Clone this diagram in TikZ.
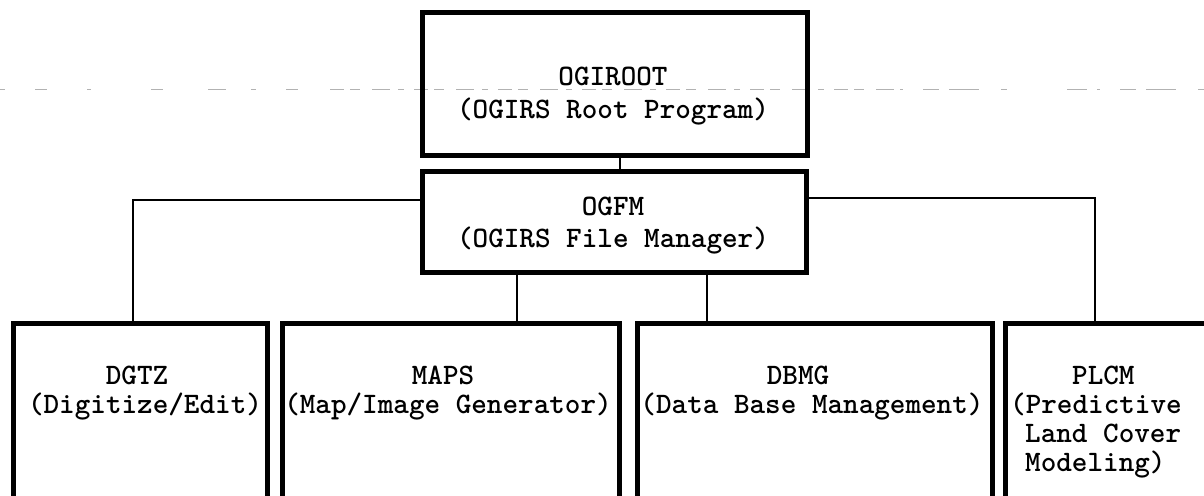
\documentclass[tikz,border=0pt]{standalone}
\usepackage{fontspec}
\begin{document}
\begin{tikzpicture}[x=1pt,y=-1pt,
  box/.style={draw, line width=5pt, rectangle, inner sep=0pt, outer sep=0pt},
  conn/.style={draw, line width=1.9pt},
  lbl/.style={inner sep=0pt, anchor=base, font=\fontsize{29.7}{33}\selectfont\ttfamily\bfseries},
  lblw/.style={lbl, anchor=base west},
  scan/.style={black!30, line width=0.9pt}]
\useasboundingbox (0,0) rectangle (1204,495);
\clip (0,0) rectangle (1204,495);
% faint scan line
\draw[scan, dash pattern=on 5pt off 30pt on 12pt off 40pt on 4pt off 60pt on 12pt off 45pt on 18pt off 25pt] (0,89) -- (330,89);
\draw[scan, dash pattern=on 14pt off 6pt on 10pt off 12pt on 18pt off 8pt on 6pt off 10pt] (330,89) -- (900,89);
\draw[scan, dash pattern=on 3pt off 20pt on 16pt off 10pt on 30pt off 22pt on 6pt off 60pt on 20pt off 10pt] (900,89) -- (1204,89);
% boxes
\node[box, minimum width=385pt, minimum height=142pt] (root) at (614.5,84) {};
\node[box, minimum width=384pt, minimum height=101pt] (fm) at (614,221.5) {};
\node[box, minimum width=254pt, minimum height=277pt] (dgtz) at (140,461.5) {};
\node[box, minimum width=337pt, minimum height=277pt] (maps) at (450.5,461.5) {};
\node[box, minimum width=355pt, minimum height=277pt] (dbmg) at (814.5,461.5) {};
\node[box, minimum width=295pt, minimum height=277pt] (plcm) at (1152.5,461.5) {};
% connectors
\draw[conn] ([xshift=5.5pt]root.south) -- ([xshift=5.5pt]root.south |- fm.north);
\draw[conn] ([yshift=21.5pt]fm.west) -| ([xshift=-7pt]dgtz.north);
\draw[conn] ([yshift=23.5pt]fm.east) -| ([xshift=-57.5pt]plcm.north);
\draw[conn] ([xshift=-97pt]fm.south) -- ([xshift=-97pt]fm.south |- maps.north);
\draw[conn] ([xshift=93pt]fm.south) -- ([xshift=93pt]fm.south |- dbmg.north);
% texts
\node[lbl] (rootA) at (613,85.7) {OGIROOT};
\node[lbl] (rootB) at (613,118) {(OGIRS Root Program)};
\node[lbl] (fmA) at (613,215.5) {OGFM};
\node[lbl] (fmB) at (613,247) {(OGIRS File Manager)};
\node[lbl] (dgtzA) at (137,384) {DGTZ};
\node[lbl] (dgtzB) at (145,413) {(Digitize/Edit)};
\node[lbl] (mapsA) at (443,384) {MAPS};
\node[lbl] (mapsB) at (448,413) {(Map/Image Generator)};
\node[lbl] (dbmgA) at (798,384) {DBMG};
\node[lbl] (dbmgB) at (812,413) {(Data Base Management)};
\node[lblw] (plcmA) at (1072,384) {PLCM};
\node[lblw] (plcmB) at (1010,413) {(Predictive};
\node[lblw] (plcmC) at (1025,442) {Land Cover};
\node[lblw] (plcmD) at (1025,471) {Modeling)};
\end{tikzpicture}
\end{document}
